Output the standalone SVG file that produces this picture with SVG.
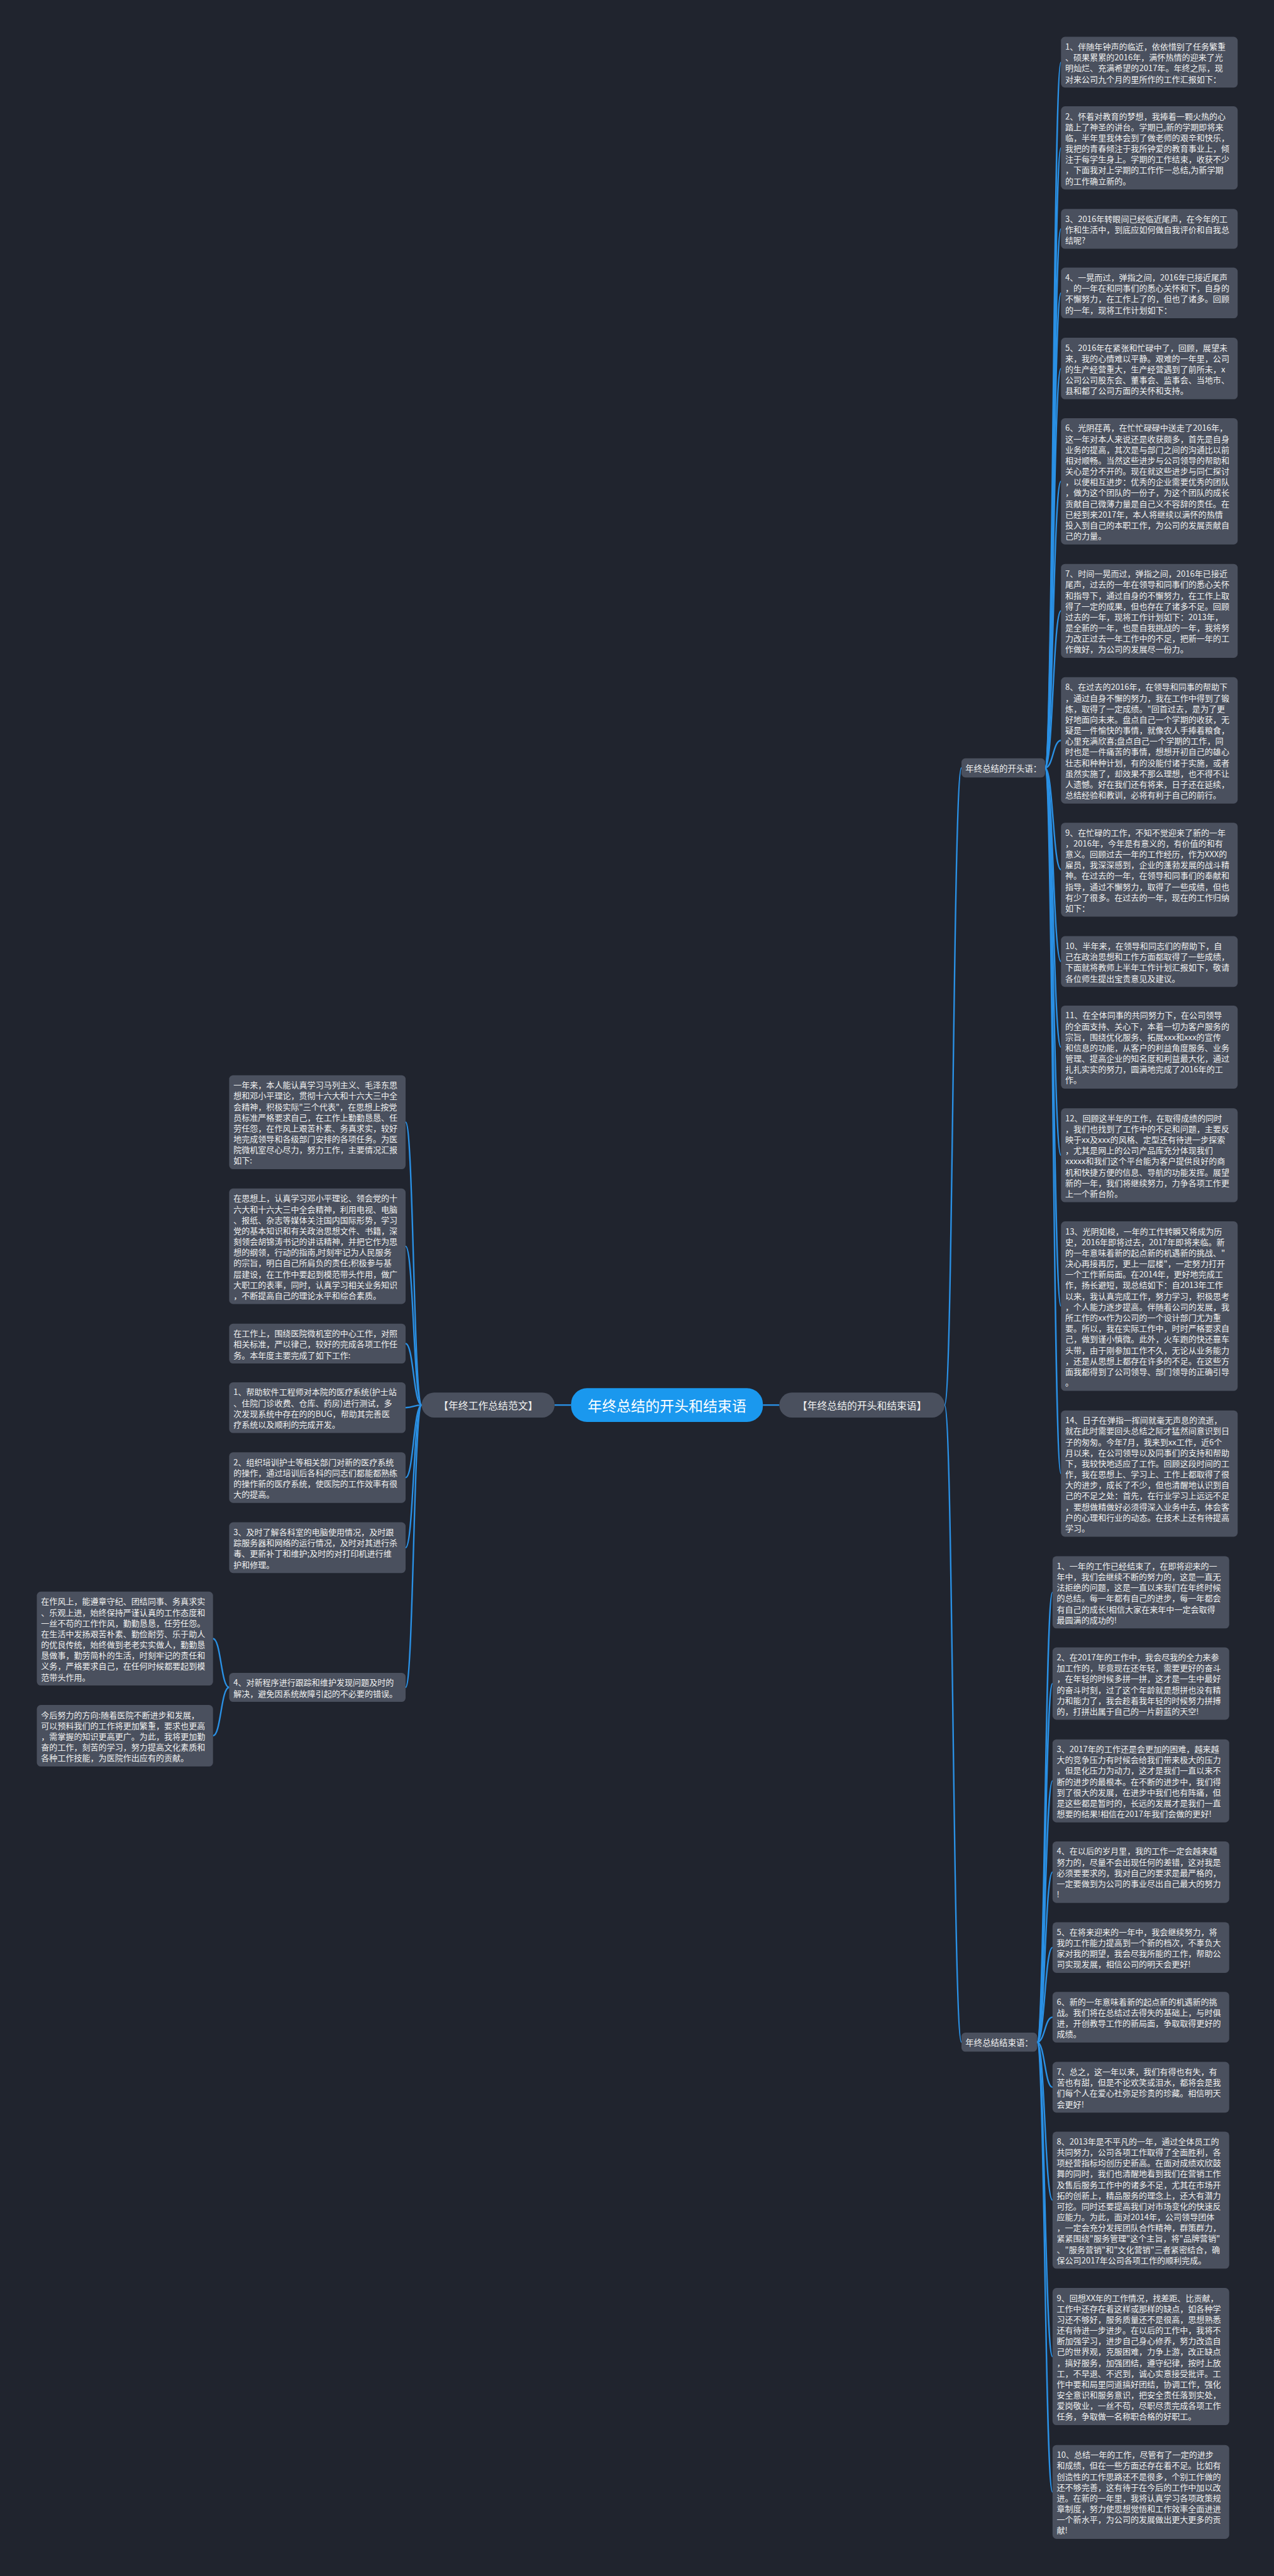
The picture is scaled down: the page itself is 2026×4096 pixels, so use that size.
<svg xmlns="http://www.w3.org/2000/svg" width="2026" height="4096" viewBox="0 0 2026 4096">
<style>
.box{fill:#4a505e}
.t{font-family:"Noto Sans CJK SC","Noto Sans",sans-serif;font-size:16.5px;fill:#f0f0f0;dominant-baseline:central}
.s{font-family:"Noto Sans CJK SC","Noto Sans",sans-serif;font-size:17px;fill:#f0f0f0;dominant-baseline:central}
.b{font-family:"Noto Sans CJK SC","Noto Sans",sans-serif;font-size:20px;fill:#f0f0f0;dominant-baseline:central;text-anchor:middle}
.m{font-family:"Noto Sans CJK SC","Noto Sans",sans-serif;font-size:29px;fill:#ffffff;dominant-baseline:central;text-anchor:middle}
.c{fill:none;stroke:#2a90e4;stroke-width:3}
</style>
<rect width="2026" height="4096" fill="#20242e"/>
<g transform="scale(0.7914)">
<g id="connectors">
<path class="c" d="M1114.3 2823 L1147.5 2823"/>
<path class="c" d="M1533 2823 L1566 2823"/>
<path class="c" d="M1898 2823 C1915 2823 1915 1542.8 1932 1542.8"/>
<path class="c" d="M1898 2823 C1915 2823 1915 4103 1932 4103"/>
<path class="c" d="M2100 1542.8 C2116 1542.8 2116 124.9 2132 124.9"/>
<path class="c" d="M2100 1542.8 C2116 1542.8 2116 297.15 2132 297.15"/>
<path class="c" d="M2100 1542.8 C2116 1542.8 2116 459.75 2132 459.75"/>
<path class="c" d="M2100 1542.8 C2116 1542.8 2116 588.6 2132 588.6"/>
<path class="c" d="M2100 1542.8 C2116 1542.8 2116 740.35 2132 740.35"/>
<path class="c" d="M2100 1542.8 C2116 1542.8 2116 967.05 2132 967.05"/>
<path class="c" d="M2100 1542.8 C2116 1542.8 2116 1227.3 2132 1227.3"/>
<path class="c" d="M2100 1542.8 C2116 1542.8 2116 1487.55 2132 1487.55"/>
<path class="c" d="M2100 1542.8 C2116 1542.8 2116 1747.3 2132 1747.3"/>
<path class="c" d="M2100 1542.8 C2116 1542.8 2116 1931.9 2132 1931.9"/>
<path class="c" d="M2100 1542.8 C2116 1542.8 2116 2103.85 2132 2103.85"/>
<path class="c" d="M2100 1542.8 C2116 1542.8 2116 2321.1 2132 2321.1"/>
<path class="c" d="M2100 1542.8 C2116 1542.8 2116 2624.25 2132 2624.25"/>
<path class="c" d="M2100 1542.8 C2116 1542.8 2116 2960.65 2132 2960.65"/>
<path class="c" d="M2084 4103 C2099.5 4103 2099.5 3199.2 2115 3199.2"/>
<path class="c" d="M2084 4103 C2099.5 4103 2099.5 3382.6 2115 3382.6"/>
<path class="c" d="M2084 4103 C2099.5 4103 2099.5 3578.05 2115 3578.05"/>
<path class="c" d="M2084 4103 C2099.5 4103 2099.5 3761.45 2115 3761.45"/>
<path class="c" d="M2084 4103 C2099.5 4103 2099.5 3912.9 2115 3912.9"/>
<path class="c" d="M2084 4103 C2099.5 4103 2099.5 4052.9 2115 4052.9"/>
<path class="c" d="M2084 4103 C2099.5 4103 2099.5 4193.7 2115 4193.7"/>
<path class="c" d="M2084 4103 C2099.5 4103 2099.5 4420.5 2115 4420.5"/>
<path class="c" d="M2084 4103 C2099.5 4103 2099.5 4734.7 2115 4734.7"/>
<path class="c" d="M2084 4103 C2099.5 4103 2099.5 5006.7 2115 5006.7"/>
<path class="c" d="M847.4 2823 C831 2823 831 2254.7 815 2254.7"/>
<path class="c" d="M847.4 2823 C831 2823 831 2504 815 2504"/>
<path class="c" d="M847.4 2823 C831 2823 831 2699.45 815 2699.45"/>
<path class="c" d="M847.4 2823 C831 2823 831 2828.2 815 2828.2"/>
<path class="c" d="M847.4 2823 C831 2823 831 2968.7 815 2968.7"/>
<path class="c" d="M847.4 2823 C831 2823 831 3109.5 815 3109.5"/>
<path class="c" d="M847.4 2823 C831 2823 831 3390.2 815 3390.2"/>
<path class="c" d="M460.5 3390.2 C444 3390.2 444 3292.2 428 3292.2"/>
<path class="c" d="M460.5 3390.2 C444 3390.2 444 3487.45 428 3487.45"/>
</g>

<g id="center">
<rect x="1147.5" y="2789" width="385.5" height="68" rx="32" fill="#1a98ee"/>
<text class="m" x="1340.25" y="2823">年终总结的开头和结束语</text>
</g>
<g id="branch-left">
<rect class="box" x="847.4" y="2798" width="267" height="50" rx="25"/>
<text class="b" x="980.9" y="2823">【年终工作总结范文】</text>
</g>
<g id="branch-right">
<rect class="box" x="1566" y="2798" width="332" height="50" rx="25"/>
<text class="b" x="1732" y="2823">【年终总结的开头和结束语】</text>
</g>
<g id="sub-open">
<rect class="box" x="1932" y="1523.6" width="168" height="38.4" rx="8"/>
<text class="s" x="1940" y="1542.8">年终总结的开头语：</text>
</g>
<g id="sub-end">
<rect class="box" x="1932" y="4083.8" width="152" height="38.4" rx="8"/>
<text class="s" x="1940" y="4103">年终总结结束语：</text>
</g>

<g id="o1" transform="translate(2132,74)"><rect class="box" width="355" height="101.8" rx="8"/><text class="t"><tspan x="8.5" y="18.35">1、伴随年钟声的临近，依依惜别了任务繁重</tspan><tspan x="8.5" y="40.05">、硕果累累的2016年，满怀热情的迎来了光</tspan><tspan x="8.5" y="61.75">明灿烂、充满希望的2017年。年终之际，现</tspan><tspan x="8.5" y="83.45">对来公司九个月的里所作的工作汇报如下：</tspan></text></g>
<g id="o2" transform="translate(2132,213.7)"><rect class="box" width="355" height="166.9" rx="8"/><text class="t"><tspan x="8.5" y="18.35">2、怀着对教育的梦想，我捧着一颗火热的心</tspan><tspan x="8.5" y="40.05">踏上了神圣的讲台。学期已,新的学期即将来</tspan><tspan x="8.5" y="61.75">临，半年里我体会到了做老师的艰辛和快乐，</tspan><tspan x="8.5" y="83.45">我把的青春倾注于我所钟爱的教育事业上，倾</tspan><tspan x="8.5" y="105.15">注于每学生身上。学期的工作结束，收获不少</tspan><tspan x="8.5" y="126.85">，下面我对上学期的工作作一总结,为新学期</tspan><tspan x="8.5" y="148.55">的工作确立新的。</tspan></text></g>
<g id="o3" transform="translate(2132,419.7)"><rect class="box" width="355" height="80.1" rx="8"/><text class="t"><tspan x="8.5" y="18.35">3、2016年转眼间已经临近尾声，在今年的工</tspan><tspan x="8.5" y="40.05">作和生活中，到底应如何做自我评价和自我总</tspan><tspan x="8.5" y="61.75">结呢?</tspan></text></g>
<g id="o4" transform="translate(2132,537.7)"><rect class="box" width="355" height="101.8" rx="8"/><text class="t"><tspan x="8.5" y="18.35">4、一晃而过，弹指之间，2016年已接近尾声</tspan><tspan x="8.5" y="40.05">，的一年在和同事们的悉心关怀和下，自身的</tspan><tspan x="8.5" y="61.75">不懈努力，在工作上了的，但也了诸多。回顾</tspan><tspan x="8.5" y="83.45">的一年，现将工作计划如下：</tspan></text></g>
<g id="o5" transform="translate(2132,678.6)"><rect class="box" width="355" height="123.5" rx="8"/><text class="t"><tspan x="8.5" y="18.35">5、2016年在紧张和忙碌中了，回顾，展望未</tspan><tspan x="8.5" y="40.05">来，我的心情难以平静。艰难的一年里，公司</tspan><tspan x="8.5" y="61.75">的生产经营重大，生产经营遇到了前所未，x</tspan><tspan x="8.5" y="83.45">公司公司股东会、董事会、监事会、当地市、</tspan><tspan x="8.5" y="105.15">县和都了公司方面的关怀和支持。</tspan></text></g>
<g id="o6" transform="translate(2132,840.2)"><rect class="box" width="355" height="253.7" rx="8"/><text class="t"><tspan x="8.5" y="18.35">6、光阴荏苒，在忙忙碌碌中送走了2016年，</tspan><tspan x="8.5" y="40.05">这一年对本人来说还是收获颇多，首先是自身</tspan><tspan x="8.5" y="61.75">业务的提高，其次是与部门之间的沟通比以前</tspan><tspan x="8.5" y="83.45">相对顺畅。当然这些进步与公司领导的帮助和</tspan><tspan x="8.5" y="105.15">关心是分不开的。现在就这些进步与同仁探讨</tspan><tspan x="8.5" y="126.85">，以便相互进步：优秀的企业需要优秀的团队</tspan><tspan x="8.5" y="148.55">，做为这个团队的一份子，为这个团队的成长</tspan><tspan x="8.5" y="170.25">贡献自己微薄力量是自己义不容辞的责任。在</tspan><tspan x="8.5" y="191.95">已经到来2017年，本人将继续以满怀的热情</tspan><tspan x="8.5" y="213.65">投入到自己的本职工作，为公司的发展贡献自</tspan><tspan x="8.5" y="235.35">己的力量。</tspan></text></g>
<g id="o7" transform="translate(2132,1133)"><rect class="box" width="355" height="188.6" rx="8"/><text class="t"><tspan x="8.5" y="18.35">7、时间一晃而过，弹指之间，2016年已接近</tspan><tspan x="8.5" y="40.05">尾声，过去的一年在领导和同事们的悉心关怀</tspan><tspan x="8.5" y="61.75">和指导下，通过自身的不懈努力，在工作上取</tspan><tspan x="8.5" y="83.45">得了一定的成果，但也存在了诸多不足。回顾</tspan><tspan x="8.5" y="105.15">过去的一年，现将工作计划如下：2013年，</tspan><tspan x="8.5" y="126.85">是全新的一年，也是自我挑战的一年，我将努</tspan><tspan x="8.5" y="148.55">力改正过去一年工作中的不足，把新一年的工</tspan><tspan x="8.5" y="170.25">作做好，为公司的发展尽一份力。</tspan></text></g>
<g id="o8" transform="translate(2132,1360.7)"><rect class="box" width="355" height="253.7" rx="8"/><text class="t"><tspan x="8.5" y="18.35">8、在过去的2016年，在领导和同事的帮助下</tspan><tspan x="8.5" y="40.05">，通过自身不懈的努力，我在工作中得到了锻</tspan><tspan x="8.5" y="61.75">炼，取得了一定成绩。"回首过去，是为了更</tspan><tspan x="8.5" y="83.45">好地面向未来。盘点自己一个学期的收获，无</tspan><tspan x="8.5" y="105.15">疑是一件愉快的事情，就像农人手捧着粮食，</tspan><tspan x="8.5" y="126.85">心里充满欣喜;盘点自己一个学期的工作，同</tspan><tspan x="8.5" y="148.55">时也是一件痛苦的事情，想想开初自己的雄心</tspan><tspan x="8.5" y="170.25">壮志和种种计划，有的没能付诸于实施，或者</tspan><tspan x="8.5" y="191.95">虽然实施了，却效果不那么理想，也不得不让</tspan><tspan x="8.5" y="213.65">人遗憾。好在我们还有将来，日子还在延续，</tspan><tspan x="8.5" y="235.35">总结经验和教训，必将有利于自己的前行。</tspan></text></g>
<g id="o9" transform="translate(2132,1653)"><rect class="box" width="355" height="188.6" rx="8"/><text class="t"><tspan x="8.5" y="18.35">9、在忙碌的工作，不知不觉迎来了新的一年</tspan><tspan x="8.5" y="40.05">，2016年，今年是有意义的，有价值的和有</tspan><tspan x="8.5" y="61.75">意义。回顾过去一年的工作经历，作为XXX的</tspan><tspan x="8.5" y="83.45">雇员，我深深感到，企业的蓬勃发展的战斗精</tspan><tspan x="8.5" y="105.15">神。在过去的一年，在领导和同事们的奉献和</tspan><tspan x="8.5" y="126.85">指导，通过不懈努力，取得了一些成绩，但也</tspan><tspan x="8.5" y="148.55">有少了很多。在过去的一年，现在的工作归纳</tspan><tspan x="8.5" y="170.25">如下：</tspan></text></g>
<g id="o10" transform="translate(2132,1881)"><rect class="box" width="355" height="101.8" rx="8"/><text class="t"><tspan x="8.5" y="18.35">10、半年来，在领导和同志们的帮助下，自</tspan><tspan x="8.5" y="40.05">己在政治思想和工作方面都取得了一些成绩，</tspan><tspan x="8.5" y="61.75">下面就将教师上半年工作计划汇报如下，敬请</tspan><tspan x="8.5" y="83.45">各位师生提出宝贵意见及建议。</tspan></text></g>
<g id="o11" transform="translate(2132,2020.4)"><rect class="box" width="355" height="166.9" rx="8"/><text class="t"><tspan x="8.5" y="18.35">11、在全体同事的共同努力下，在公司领导</tspan><tspan x="8.5" y="40.05">的全面支持、关心下，本着一切为客户服务的</tspan><tspan x="8.5" y="61.75">宗旨，围绕优化服务、拓展xxx和xxx的宣传</tspan><tspan x="8.5" y="83.45">和信息的功能，从客户的利益角度服务、业务</tspan><tspan x="8.5" y="105.15">管理、提高企业的知名度和利益最大化，通过</tspan><tspan x="8.5" y="126.85">扎扎实实的努力，圆满地完成了2016年的工</tspan><tspan x="8.5" y="148.55">作。</tspan></text></g>
<g id="o12" transform="translate(2132,2226.8)"><rect class="box" width="355" height="188.6" rx="8"/><text class="t"><tspan x="8.5" y="18.35">12、回顾这半年的工作，在取得成绩的同时</tspan><tspan x="8.5" y="40.05">，我们也找到了工作中的不足和问题，主要反</tspan><tspan x="8.5" y="61.75">映于xx及xxx的风格、定型还有待进一步探索</tspan><tspan x="8.5" y="83.45">，尤其是网上的公司产品库充分体现我们</tspan><tspan x="8.5" y="105.15">xxxxx和我们这个平台能为客户提供良好的商</tspan><tspan x="8.5" y="126.85">机和快捷方便的信息、导航的功能发挥。展望</tspan><tspan x="8.5" y="148.55">新的一年，我们将继续努力，力争各项工作更</tspan><tspan x="8.5" y="170.25">上一个新台阶。</tspan></text></g>
<g id="o13" transform="translate(2132,2454)"><rect class="box" width="355" height="340.5" rx="8"/><text class="t"><tspan x="8.5" y="18.35">13、光阴如梭，一年的工作转瞬又将成为历</tspan><tspan x="8.5" y="40.05">史，2016年即将过去，2017年即将来临。新</tspan><tspan x="8.5" y="61.75">的一年意味着新的起点新的机遇新的挑战、"</tspan><tspan x="8.5" y="83.45">决心再接再厉，更上一层楼"，一定努力打开</tspan><tspan x="8.5" y="105.15">一个工作新局面。在2014年，更好地完成工</tspan><tspan x="8.5" y="126.85">作，扬长避短，现总结如下：自2013年工作</tspan><tspan x="8.5" y="148.55">以来，我认真完成工作，努力学习，积极思考</tspan><tspan x="8.5" y="170.25">，个人能力逐步提高。伴随着公司的发展，我</tspan><tspan x="8.5" y="191.95">所工作的xx作为公司的一个设计部门尤为重</tspan><tspan x="8.5" y="213.65">要。所以，我在实际工作中，时时严格要求自</tspan><tspan x="8.5" y="235.35">己，做到谨小慎微。此外，火车跑的快还靠车</tspan><tspan x="8.5" y="257.05">头带，由于刚参加工作不久，无论从业务能力</tspan><tspan x="8.5" y="278.75">，还是从思想上都存在许多的不足。在这些方</tspan><tspan x="8.5" y="300.45">面我都得到了公司领导、部门领导的正确引导</tspan><tspan x="8.5" y="322.15">。</tspan></text></g>
<g id="o14" transform="translate(2132,2833.8)"><rect class="box" width="355" height="253.7" rx="8"/><text class="t"><tspan x="8.5" y="18.35">14、日子在弹指一挥间就毫无声息的流逝，</tspan><tspan x="8.5" y="40.05">就在此时需要回头总结之际才猛然间意识到日</tspan><tspan x="8.5" y="61.75">子的匆匆。今年7月，我来到xx工作，近6个</tspan><tspan x="8.5" y="83.45">月以来，在公司领导以及同事们的支持和帮助</tspan><tspan x="8.5" y="105.15">下，我较快地适应了工作。回顾这段时间的工</tspan><tspan x="8.5" y="126.85">作，我在思想上、学习上、工作上都取得了很</tspan><tspan x="8.5" y="148.55">大的进步，成长了不少，但也清醒地认识到自</tspan><tspan x="8.5" y="170.25">己的不足之处：首先，在行业学习上远远不足</tspan><tspan x="8.5" y="191.95">，要想做精做好必须得深入业务中去，体会客</tspan><tspan x="8.5" y="213.65">户的心理和行业的动态。在技术上还有待提高</tspan><tspan x="8.5" y="235.35">学习。</tspan></text></g>

<g id="e1" transform="translate(2115,3126.6)"><rect class="box" width="355" height="145.2" rx="8"/><text class="t"><tspan x="8.5" y="18.35">1、一年的工作已经结束了，在即将迎来的一</tspan><tspan x="8.5" y="40.05">年中，我们会继续不断的努力的，这是一直无</tspan><tspan x="8.5" y="61.75">法拒绝的问题，这是一直以来我们在年终时候</tspan><tspan x="8.5" y="83.45">的总结。每一年都有自己的进步，每一年都会</tspan><tspan x="8.5" y="105.15">有自己的成长!相信大家在来年中一定会取得</tspan><tspan x="8.5" y="126.85">最圆满的成功的!</tspan></text></g>
<g id="e2" transform="translate(2115,3310)"><rect class="box" width="355" height="145.2" rx="8"/><text class="t"><tspan x="8.5" y="18.35">2、在2017年的工作中，我会尽我的全力来参</tspan><tspan x="8.5" y="40.05">加工作的，毕竟现在还年轻，需要更好的奋斗</tspan><tspan x="8.5" y="61.75">，在年轻的时候多拼一拼，这才是一生中最好</tspan><tspan x="8.5" y="83.45">的奋斗时刻，过了这个年龄就是想拼也没有精</tspan><tspan x="8.5" y="105.15">力和能力了，我会趁着我年轻的时候努力拼搏</tspan><tspan x="8.5" y="126.85">的，打拼出属于自己的一片蔚蓝的天空!</tspan></text></g>
<g id="e3" transform="translate(2115,3494.6)"><rect class="box" width="355" height="166.9" rx="8"/><text class="t"><tspan x="8.5" y="18.35">3、2017年的工作还是会更加的困难，越来越</tspan><tspan x="8.5" y="40.05">大的竞争压力有时候会给我们带来极大的压力</tspan><tspan x="8.5" y="61.75">，但是化压力为动力，这才是我们一直以来不</tspan><tspan x="8.5" y="83.45">断的进步的最根本。在不断的进步中，我们得</tspan><tspan x="8.5" y="105.15">到了很大的发展，在进步中我们也有阵痛，但</tspan><tspan x="8.5" y="126.85">是这些都是暂时的，长远的发展才是我们一直</tspan><tspan x="8.5" y="148.55">想要的结果!相信在2017年我们会做的更好!</tspan></text></g>
<g id="e4" transform="translate(2115,3699.7)"><rect class="box" width="355" height="123.5" rx="8"/><text class="t"><tspan x="8.5" y="18.35">4、在以后的岁月里，我的工作一定会越来越</tspan><tspan x="8.5" y="40.05">努力的，尽量不会出现任何的差错，这对我是</tspan><tspan x="8.5" y="61.75">必须要要求的，我对自己的要求是最严格的，</tspan><tspan x="8.5" y="83.45">一定要做到为公司的事业尽出自己最大的努力</tspan><tspan x="8.5" y="105.15">!</tspan></text></g>
<g id="e5" transform="translate(2115,3862)"><rect class="box" width="355" height="101.8" rx="8"/><text class="t"><tspan x="8.5" y="18.35">5、在将来迎来的一年中，我会继续努力，将</tspan><tspan x="8.5" y="40.05">我的工作能力提高到一个新的档次，不辜负大</tspan><tspan x="8.5" y="61.75">家对我的期望，我会尽我所能的工作，帮助公</tspan><tspan x="8.5" y="83.45">司实现发展，相信公司的明天会更好!</tspan></text></g>
<g id="e6" transform="translate(2115,4002)"><rect class="box" width="355" height="101.8" rx="8"/><text class="t"><tspan x="8.5" y="18.35">6、新的一年意味着新的起点新的机遇新的挑</tspan><tspan x="8.5" y="40.05">战。我们将在总结过去得失的基础上，与时俱</tspan><tspan x="8.5" y="61.75">进，开创教导工作的新局面，争取取得更好的</tspan><tspan x="8.5" y="83.45">成绩。</tspan></text></g>
<g id="e7" transform="translate(2115,4142.8)"><rect class="box" width="355" height="101.8" rx="8"/><text class="t"><tspan x="8.5" y="18.35">7、总之，这一年以来，我们有得也有失，有</tspan><tspan x="8.5" y="40.05">苦也有甜，但是不论欢笑或泪水，都将会是我</tspan><tspan x="8.5" y="61.75">们每个人在爱心社弥足珍贵的珍藏。相信明天</tspan><tspan x="8.5" y="83.45">会更好!</tspan></text></g>
<g id="e8" transform="translate(2115,4282.8)"><rect class="box" width="355" height="275.4" rx="8"/><text class="t"><tspan x="8.5" y="18.35">8、2013年是不平凡的一年，通过全体员工的</tspan><tspan x="8.5" y="40.05">共同努力，公司各项工作取得了全面胜利，各</tspan><tspan x="8.5" y="61.75">项经营指标均创历史新高。在面对成绩欢欣鼓</tspan><tspan x="8.5" y="83.45">舞的同时，我们也清醒地看到我们在营销工作</tspan><tspan x="8.5" y="105.15">及售后服务工作中的诸多不足，尤其在市场开</tspan><tspan x="8.5" y="126.85">拓的创新上，精品服务的理念上，还大有潜力</tspan><tspan x="8.5" y="148.55">可挖。同时还要提高我们对市场变化的快速反</tspan><tspan x="8.5" y="170.25">应能力。为此，面对2014年，公司领导团体</tspan><tspan x="8.5" y="191.95">，一定会充分发挥团队合作精神，群策群力，</tspan><tspan x="8.5" y="213.65">紧紧围绕"服务管理"这个主旨，将"品牌营销"</tspan><tspan x="8.5" y="235.35">、"服务营销"和"文化营销"三者紧密结合，确</tspan><tspan x="8.5" y="257.05">保公司2017年公司各项工作的顺利完成。</tspan></text></g>
<g id="e9" transform="translate(2115,4597)"><rect class="box" width="355" height="275.4" rx="8"/><text class="t"><tspan x="8.5" y="18.35">9、回想XX年的工作情况，找差距、比贡献，</tspan><tspan x="8.5" y="40.05">工作中还存在着这样或那样的缺点，如各种学</tspan><tspan x="8.5" y="61.75">习还不够好，服务质量还不是很高，思想熟悉</tspan><tspan x="8.5" y="83.45">还有待进一步进步。在以后的工作中，我将不</tspan><tspan x="8.5" y="105.15">断加强学习，进步自己身心修养，努力改造自</tspan><tspan x="8.5" y="126.85">己的世界观，克服困难，力争上游，改正缺点</tspan><tspan x="8.5" y="148.55">，搞好服务，加强团结，遵守纪律，按时上放</tspan><tspan x="8.5" y="170.25">工，不早退、不迟到，诚心实意接受批评。工</tspan><tspan x="8.5" y="191.95">作中要和局里同道搞好团结，协调工作，强化</tspan><tspan x="8.5" y="213.65">安全意识和服务意识，把安全责任落到实处，</tspan><tspan x="8.5" y="235.35">爱岗敬业，一丝不苟，尽职尽责完成各项工作</tspan><tspan x="8.5" y="257.05">任务，争取做一名称职合格的好职工。</tspan></text></g>
<g id="e10" transform="translate(2115,4912.4)"><rect class="box" width="355" height="188.6" rx="8"/><text class="t"><tspan x="8.5" y="18.35">10、总结一年的工作，尽管有了一定的进步</tspan><tspan x="8.5" y="40.05">和成绩，但在一些方面还存在着不足。比如有</tspan><tspan x="8.5" y="61.75">创造性的工作思路还不是很多，个别工作做的</tspan><tspan x="8.5" y="83.45">还不够完善，这有待于在今后的工作中加以改</tspan><tspan x="8.5" y="105.15">进。在新的一年里，我将认真学习各项政策规</tspan><tspan x="8.5" y="126.85">章制度，努力使思想觉悟和工作效率全面进进</tspan><tspan x="8.5" y="148.55">一个新水平，为公司的发展做出更大更多的贡</tspan><tspan x="8.5" y="170.25">献!</tspan></text></g>

<g id="l1" transform="translate(460.5,2160.4)"><rect class="box" width="354.5" height="188.6" rx="8"/><text class="t"><tspan x="8.5" y="18.35">一年来，本人能认真学习马列主义、毛泽东思</tspan><tspan x="8.5" y="40.05">想和邓小平理论，贯彻十六大和十六大三中全</tspan><tspan x="8.5" y="61.75">会精神，积极实际"三个代表"，在思想上按党</tspan><tspan x="8.5" y="83.45">员标准严格要求自己，在工作上勤勤恳恳、任</tspan><tspan x="8.5" y="105.15">劳任怨，在作风上艰苦朴素、务真求实，较好</tspan><tspan x="8.5" y="126.85">地完成领导和各级部门安排的各项任务。为医</tspan><tspan x="8.5" y="148.55">院微机室尽心尽力，努力工作，主要情况汇报</tspan><tspan x="8.5" y="170.25">如下:</tspan></text></g>
<g id="l2" transform="translate(460.5,2388)"><rect class="box" width="354.5" height="232" rx="8"/><text class="t"><tspan x="8.5" y="18.35">在思想上，认真学习邓小平理论、领会党的十</tspan><tspan x="8.5" y="40.05">六大和十六大三中全会精神，利用电视、电脑</tspan><tspan x="8.5" y="61.75">、报纸、杂志等媒体关注国内国际形势，学习</tspan><tspan x="8.5" y="83.45">党的基本知识和有关政治思想文件、书籍，深</tspan><tspan x="8.5" y="105.15">刻领会胡锦涛书记的讲话精神，并把它作为思</tspan><tspan x="8.5" y="126.85">想的纲领，行动的指南,时刻牢记为人民服务</tspan><tspan x="8.5" y="148.55">的宗旨，明白自己所肩负的责任;积极参与基</tspan><tspan x="8.5" y="170.25">层建设，在工作中要起到模范带头作用，做广</tspan><tspan x="8.5" y="191.95">大职工的表率，同时，认真学习相关业务知识</tspan><tspan x="8.5" y="213.65">，不断提高自己的理论水平和综合素质。</tspan></text></g>
<g id="l3" transform="translate(460.5,2659.4)"><rect class="box" width="354.5" height="80.1" rx="8"/><text class="t"><tspan x="8.5" y="18.35">在工作上，围绕医院微机室的中心工作，对照</tspan><tspan x="8.5" y="40.05">相关标准，严以律己，较好的完成各项工作任</tspan><tspan x="8.5" y="61.75">务。本年度主要完成了如下工作:</tspan></text></g>
<g id="l4" transform="translate(460.5,2777.3)"><rect class="box" width="354.5" height="101.8" rx="8"/><text class="t"><tspan x="8.5" y="18.35">1、帮助软件工程师对本院的医疗系统(护士站</tspan><tspan x="8.5" y="40.05">、住院门诊收费、仓库、药房)进行测试，多</tspan><tspan x="8.5" y="61.75">次发现系统中存在的的BUG，帮助其完善医</tspan><tspan x="8.5" y="83.45">疗系统以及顺利的完成开发。</tspan></text></g>
<g id="l5" transform="translate(460.5,2917.8)"><rect class="box" width="354.5" height="101.8" rx="8"/><text class="t"><tspan x="8.5" y="18.35">2、组织培训护士等相关部门对新的医疗系统</tspan><tspan x="8.5" y="40.05">的操作，通过培训后各科的同志们都能都熟练</tspan><tspan x="8.5" y="61.75">的操作新的医疗系统，使医院的工作效率有很</tspan><tspan x="8.5" y="83.45">大的提高。</tspan></text></g>
<g id="l6" transform="translate(460.5,3058.6)"><rect class="box" width="354.5" height="101.8" rx="8"/><text class="t"><tspan x="8.5" y="18.35">3、及时了解各科室的电脑使用情况，及时跟</tspan><tspan x="8.5" y="40.05">踪服务器和网络的运行情况，及时对其进行杀</tspan><tspan x="8.5" y="61.75">毒、更新补丁和维护;及时的对打印机进行维</tspan><tspan x="8.5" y="83.45">护和修理。</tspan></text></g>
<g id="l7" transform="translate(460.5,3361)"><rect class="box" width="354.5" height="58.4" rx="8"/><text class="t"><tspan x="8.5" y="18.35">4、对新程序进行跟踪和维护发现问题及时的</tspan><tspan x="8.5" y="40.05">解决，避免因系统故障引起的不必要的错误。</tspan></text></g>
<g id="ll1" transform="translate(74,3197.9)"><rect class="box" width="354" height="188.6" rx="8"/><text class="t"><tspan x="8.5" y="18.35">在作风上，能遵章守纪、团结同事、务真求实</tspan><tspan x="8.5" y="40.05">、乐观上进，始终保持严谨认真的工作态度和</tspan><tspan x="8.5" y="61.75">一丝不苟的工作作风，勤勤恳恳，任劳任怨。</tspan><tspan x="8.5" y="83.45">在生活中发扬艰苦朴素、勤俭耐劳、乐于助人</tspan><tspan x="8.5" y="105.15">的优良传统，始终做到老老实实做人，勤勤恳</tspan><tspan x="8.5" y="126.85">恳做事，勤劳简朴的生活，时刻牢记的责任和</tspan><tspan x="8.5" y="148.55">义务，严格要求自己，在任何时候都要起到模</tspan><tspan x="8.5" y="170.25">范带头作用。</tspan></text></g>
<g id="ll2" transform="translate(74,3425.7)"><rect class="box" width="354" height="123.5" rx="8"/><text class="t"><tspan x="8.5" y="18.35">今后努力的方向:随着医院不断进步和发展，</tspan><tspan x="8.5" y="40.05">可以预料我们的工作将更加繁重，要求也更高</tspan><tspan x="8.5" y="61.75">，需掌握的知识更高更广。为此，我将更加勤</tspan><tspan x="8.5" y="83.45">奋的工作，刻苦的学习，努力提高文化素质和</tspan><tspan x="8.5" y="105.15">各种工作技能，为医院作出应有的贡献。</tspan></text></g>
</g>
</svg>
